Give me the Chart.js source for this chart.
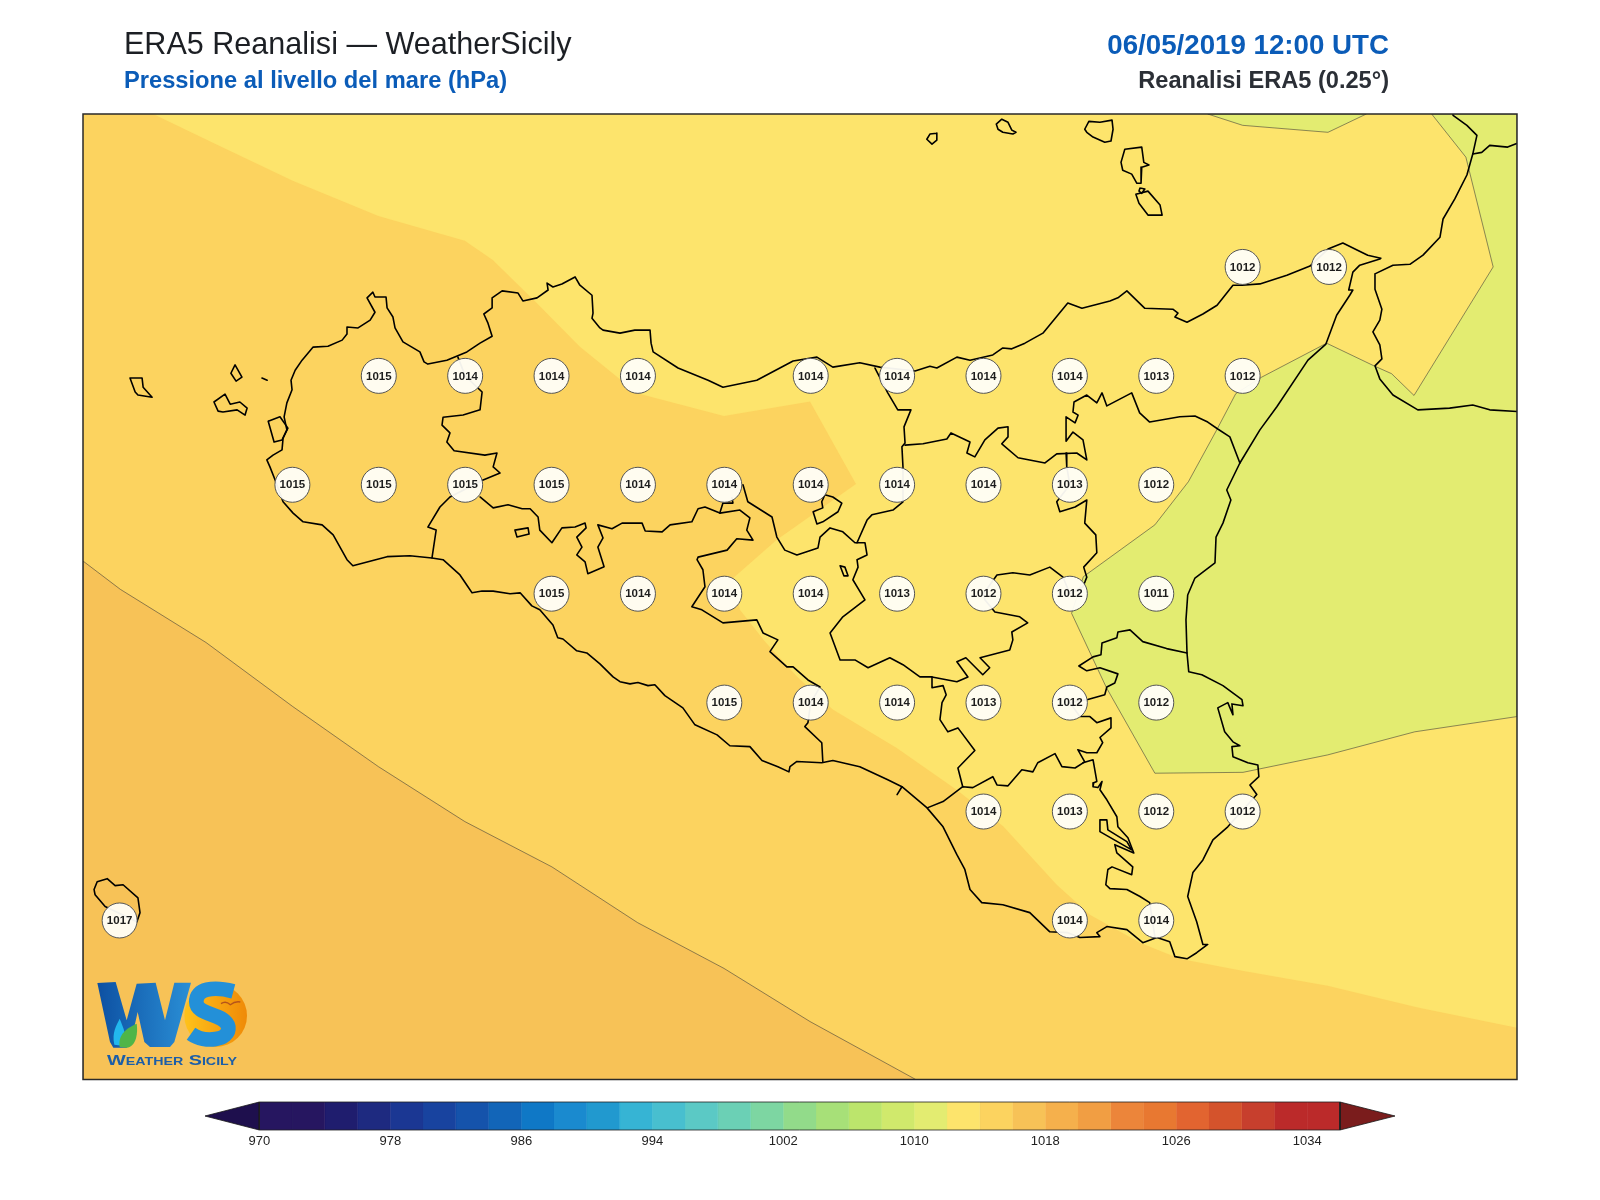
<!DOCTYPE html>
<html lang="it"><head><meta charset="utf-8"><title>ERA5 Reanalisi — WeatherSicily</title>
<script src="https://cdn.jsdelivr.net/npm/chart.js@4"></script>
<style>
html,body{margin:0;padding:0;background:#fff;width:1600px;height:1200px;overflow:hidden;font-family:"Liberation Sans",Arial,sans-serif}
canvas{position:absolute;display:block}
.t{position:absolute;white-space:nowrap}
svg{position:absolute}
</style></head><body>
<canvas id="map" width="1600" height="1098" style="left:0;top:0"></canvas>
<canvas id="bar" width="1190" height="53" style="top:1101px;left:205px"></canvas>
<div class="t" style="left:124px;top:25px;font-size:30.55px;line-height:36px;color:#1c1f24">ERA5 Reanalisi — WeatherSicily</div>
<div class="t" style="left:124px;top:65px;font-size:23.7px;line-height:30px;font-weight:bold;color:#0b5cb8">Pressione al livello del mare (hPa)</div>
<div class="t" style="right:211px;top:28px;font-size:27.7px;line-height:34px;font-weight:bold;color:#0b5cb8">06/05/2019 12:00 UTC</div>
<div class="t" style="right:211px;top:65px;font-size:23.6px;line-height:30px;font-weight:bold;color:#2b2f36">Reanalisi ERA5 (0.25°)</div>
<svg width="170" height="230" viewBox="0 0 510 690" style="left:85px;top:852px">
<defs>
<linearGradient id="wg" x1="0" y1="0" x2="1" y2="0"><stop offset="0" stop-color="#0d50a2"/><stop offset="1" stop-color="#2a8fd6"/></linearGradient>
<linearGradient id="og" x1="0" y1="0" x2="1" y2="0"><stop offset="0" stop-color="#ffc21a"/><stop offset="1" stop-color="#ef8a07"/></linearGradient>
</defs>
<circle cx="392" cy="491" r="94" fill="url(#og)"/>
<path d="M37 393 L92 390 L125 505 L155 395 L212 392 L240 505 L268 392 L318 392 L268 570 L255 585 L195 585 L178 570 L158 480 L138 570 L125 587 L85 587 L75 570Z" fill="url(#wg)"/>
<path d="M88 578 C80 540 95 520 104 500 C116 530 126 548 118 582Z" fill="#22b8ee"/>
<path d="M104 585 C98 548 125 528 155 515 C160 550 150 585 125 587Z" fill="#4fb548"/>
<path d="M445 418 C385 402 332 410 334 450 C334 492 420 482 430 525 C435 565 360 575 318 545" fill="none" stroke="#2390d8" stroke-width="44"/>
<path d="M408 455 Q422 445 436 458 Q450 447 466 450" fill="none" stroke="#b5541a" stroke-width="4"/>
<text x="66" y="638" textLength="390" lengthAdjust="spacingAndGlyphs" font-family="Liberation Sans" font-weight="bold" font-size="46" fill="#1c5ea8" style="font-variant:small-caps">Weather Sicily</text>
</svg>
<script>
// Map extent (degrees)
const lonRange=[11.894,16.044];
const latRange=[36.385,38.601];

// Sea-level pressure grid values
const stationLon=[15.25,15.5,
12.75,13,13.25,13.5,14,14.25,14.5,14.75,15,15.25,
12.5,12.75,13,13.25,13.5,13.75,14,14.25,14.5,14.75,15,
13.25,13.5,13.75,14,14.25,14.5,14.75,15,
13.75,14,14.25,14.5,14.75,15,
14.5,14.75,15,15.25,
12,14.75,15];
const stationLat=[38.25,38.25,
38,38,38,38,38,38,38,38,38,38,
37.75,37.75,37.75,37.75,37.75,37.75,37.75,37.75,37.75,37.75,37.75,
37.5,37.5,37.5,37.5,37.5,37.5,37.5,37.5,
37.25,37.25,37.25,37.25,37.25,37.25,
37,37,37,37,
36.75,36.75,36.75];
const stationP=[1012,1012,
1015,1014,1014,1014,1014,1014,1014,1014,1013,1012,
1015,1015,1015,1015,1014,1014,1014,1014,1014,1013,1012,
1015,1014,1014,1014,1013,1012,1012,1011,
1015,1014,1014,1013,1012,1012,
1014,1013,1012,1012,
1017,1014,1014];

// Filled pressure contours (lon, lat)
const band1014=[[11.894,38.601],[16.044,38.601],[16.044,36.385],[11.894,36.385]];
const band1016=[[11.894,37.575],[12.002,37.510],[12.250,37.388],[12.501,37.241],[12.749,37.103],[12.999,36.977],[13.251,36.873],[13.499,36.745],[13.749,36.640],[13.998,36.518],[14.304,36.385],[11.894,36.385]];
const band1012=[[12.097,38.601],[12.273,38.534],[12.501,38.448],[12.749,38.367],[12.999,38.310],[13.080,38.266],[13.207,38.167],[13.332,38.067],[13.498,37.960],[13.749,37.908],[13.998,37.941],[14.131,37.752],[13.901,37.623],[13.776,37.536],[13.795,37.463],[13.868,37.390],[13.960,37.310],[14.064,37.234],[14.249,37.146],[14.422,37.050],[14.557,36.966],[14.712,36.832],[14.808,36.763],[14.953,36.699],[15.068,36.662],[15.245,36.635],[15.496,36.600],[15.757,36.550],[16.044,36.504],[16.044,38.601]];
const band1010a=[[15.149,38.601],[15.250,38.575],[15.497,38.559],[15.608,38.601]];
const band1010b=[[15.797,38.601],[15.896,38.502],[15.975,38.250],[15.746,37.955],[15.681,38.005],[15.630,38.023],[15.493,38.075],[15.305,37.997],[15.230,37.959],[15.175,37.876],[15.093,37.757],[14.996,37.658],[14.789,37.539],[14.755,37.455],[14.856,37.284],[14.996,37.088],[15.251,37.090],[15.496,37.130],[15.748,37.183],[16.044,37.218],[16.044,38.601]];

// Coastlines
const sicily=[[12.426,37.807],[12.444,37.818],[12.470,37.830],[12.473,37.857],[12.484,37.876],[12.476,37.906],[12.484,37.938],[12.499,37.968],[12.496,37.990],[12.508,38.013],[12.528,38.036],[12.560,38.066],[12.603,38.068],[12.644,38.082],[12.658,38.096],[12.658,38.112],[12.690,38.110],[12.725,38.128],[12.739,38.146],[12.716,38.179],[12.733,38.192],[12.739,38.181],[12.771,38.181],[12.774,38.156],[12.791,38.135],[12.797,38.110],[12.820,38.078],[12.869,38.055],[12.881,38.032],[12.892,38.027],[12.947,38.036],[13.005,38.055],[13.043,38.075],[13.078,38.091],[13.066,38.121],[13.054,38.142],[13.078,38.156],[13.078,38.179],[13.107,38.195],[13.153,38.190],[13.167,38.172],[13.208,38.179],[13.240,38.197],[13.237,38.213],[13.254,38.204],[13.280,38.211],[13.318,38.227],[13.332,38.208],[13.367,38.185],[13.370,38.144],[13.367,38.132],[13.390,38.110],[13.399,38.105],[13.448,38.098],[13.491,38.105],[13.535,38.105],[13.538,38.075],[13.544,38.055],[13.616,38.018],[13.703,37.990],[13.746,37.974],[13.844,37.990],[13.949,38.034],[14.018,38.043],[14.064,38.020],[14.142,38.030],[14.200,38.020],[14.302,38.011],[14.345,38.022],[14.365,38.018],[14.423,38.043],[14.461,38.036],[14.527,38.048],[14.556,38.064],[14.582,38.062],[14.620,38.075],[14.672,38.098],[14.744,38.167],[14.785,38.155],[14.866,38.172],[14.889,38.179],[14.915,38.195],[14.967,38.155],[15.048,38.153],[15.063,38.144],[15.054,38.135],[15.089,38.123],[15.135,38.142],[15.176,38.162],[15.222,38.208],[15.248,38.208],[15.300,38.211],[15.378,38.231],[15.445,38.252],[15.497,38.291],[15.540,38.305],[15.581,38.289],[15.612,38.277],[15.650,38.270],[15.647,38.268],[15.589,38.254],[15.569,38.238],[15.557,38.197],[15.569,38.197],[15.560,38.185],[15.522,38.139],[15.491,38.073],[15.439,38.036],[15.349,37.929],[15.300,37.876],[15.242,37.800],[15.204,37.738],[15.216,37.715],[15.193,37.662],[15.173,37.630],[15.170,37.571],[15.112,37.536],[15.091,37.497],[15.086,37.440],[15.089,37.364],[15.094,37.321],[15.132,37.314],[15.193,37.289],[15.248,37.257],[15.251,37.243],[15.219,37.247],[15.222,37.222],[15.207,37.250],[15.178,37.238],[15.198,37.183],[15.222,37.160],[15.242,37.151],[15.219,37.149],[15.222,37.126],[15.265,37.112],[15.294,37.107],[15.297,37.080],[15.271,37.061],[15.291,37.039],[15.207,36.965],[15.164,36.935],[15.135,36.889],[15.106,36.860],[15.091,36.805],[15.117,36.747],[15.135,36.695],[15.149,36.695],[15.117,36.676],[15.089,36.662],[15.054,36.667],[15.039,36.701],[15.002,36.711],[14.961,36.699],[14.915,36.729],[14.857,36.736],[14.828,36.722],[14.837,36.713],[14.779,36.711],[14.744,36.722],[14.692,36.724],[14.634,36.768],[14.556,36.786],[14.495,36.791],[14.461,36.821],[14.446,36.867],[14.423,36.901],[14.383,36.965],[14.336,37.009],[14.264,37.057],[14.223,37.073],[14.142,37.103],[14.064,37.117],[14.032,37.112],[13.960,37.115],[13.940,37.103],[13.937,37.091],[13.905,37.103],[13.859,37.117],[13.824,37.149],[13.766,37.151],[13.729,37.176],[13.665,37.199],[13.630,37.238],[13.578,37.266],[13.549,37.291],[13.529,37.289],[13.500,37.296],[13.477,37.293],[13.448,37.298],[13.428,37.309],[13.390,37.339],[13.352,37.364],[13.323,37.369],[13.283,37.396],[13.268,37.399],[13.254,37.428],[13.216,37.463],[13.193,37.472],[13.159,37.502],[13.130,37.500],[13.081,37.506],[13.049,37.506],[13.020,37.502],[13.008,37.516],[12.985,37.543],[12.936,37.578],[12.904,37.582],[12.840,37.587],[12.774,37.585],[12.675,37.564],[12.658,37.578],[12.618,37.635],[12.586,37.658],[12.531,37.665],[12.502,37.685],[12.473,37.711],[12.450,37.761],[12.435,37.791],[12.426,37.807]];
const calabria=[[15.855,38.61],[15.859,38.598],[15.899,38.575],[15.928,38.552],[15.916,38.509],[15.899,38.461],[15.864,38.406],[15.830,38.360],[15.821,38.318],[15.772,38.277],[15.734,38.256],[15.685,38.254],[15.633,38.234],[15.633,38.199],[15.653,38.153],[15.647,38.128],[15.627,38.101],[15.647,38.071],[15.653,38.039],[15.633,38.023],[15.647,37.993],[15.685,37.956],[15.757,37.922],[15.849,37.926],[15.916,37.933],[15.965,37.922],[16.067,37.917]];
const calabriaBorder=[[15.916,38.509],[15.942,38.513],[15.965,38.529],[16.017,38.525],[16.067,38.541]];
const alicudi=[[14.336,38.543],[14.345,38.555],[14.365,38.557],[14.365,38.541],[14.351,38.532],[14.336,38.543]];
const filicudi=[[14.537,38.578],[14.553,38.589],[14.571,38.582],[14.582,38.564],[14.594,38.559],[14.585,38.555],[14.556,38.559],[14.542,38.566],[14.537,38.578]];
const salina=[[14.793,38.566],[14.805,38.584],[14.837,38.582],[14.872,38.587],[14.875,38.566],[14.869,38.539],[14.851,38.536],[14.817,38.548],[14.799,38.559],[14.793,38.566]];
const lipari=[[14.898,38.490],[14.909,38.520],[14.958,38.525],[14.964,38.490],[14.979,38.484],[14.958,38.479],[14.956,38.442],[14.944,38.442],[14.929,38.463],[14.903,38.472],[14.898,38.490]];
const vulcanello=[[14.953,38.431],[14.967,38.429],[14.958,38.419],[14.950,38.424],[14.953,38.431]];
const vulcano=[[14.941,38.417],[14.976,38.424],[15.011,38.392],[15.017,38.369],[14.976,38.369],[14.950,38.396],[14.941,38.417]];
const marettimo=[[12.030,37.995],[12.065,37.995],[12.068,37.974],[12.094,37.951],[12.053,37.956],[12.045,37.963],[12.030,37.995]];
const levanzo=[[12.334,38.025],[12.354,37.997],[12.337,37.988],[12.322,38.006],[12.334,38.025]];
const favignana=[[12.273,37.940],[12.305,37.958],[12.320,37.935],[12.348,37.940],[12.369,37.926],[12.363,37.910],[12.340,37.922],[12.299,37.917],[12.285,37.919],[12.273,37.940]];
const formica=[[12.412,37.995],[12.427,37.990]];
const stagnone=[[12.430,37.896],[12.464,37.906],[12.487,37.880],[12.470,37.853],[12.447,37.848],[12.430,37.896]];
const pantelleria=[[11.926,36.821],[11.935,36.839],[11.964,36.846],[11.987,36.830],[12.010,36.832],[12.053,36.802],[12.059,36.768],[12.050,36.747],[11.958,36.782],[11.929,36.809],[11.926,36.821]];
const gelaSpur=[[14.264,37.057],[14.250,37.039]];

// Province borders and lakes
const border1=[[12.979,38.043],[13.0,38.0],[13.049,37.963],[13.043,37.922],[12.994,37.910],[12.936,37.905],[12.933,37.887],[12.956,37.869],[12.947,37.848],[12.968,37.828],[13.057,37.818],[13.092,37.823],[13.081,37.791],[13.101,37.777],[13.052,37.761],[12.956,37.722],[12.927,37.699],[12.892,37.653],[12.916,37.646],[12.904,37.582]];
const border2=[[13.043,37.722],[13.081,37.697],[13.124,37.704],[13.165,37.695],[13.188,37.695],[13.211,37.676],[13.216,37.646],[13.251,37.617],[13.280,37.651],[13.318,37.653],[13.347,37.662],[13.350,37.651],[13.323,37.630],[13.338,37.607],[13.323,37.589],[13.347,37.573],[13.355,37.546],[13.402,37.562],[13.384,37.607],[13.399,37.628],[13.384,37.658],[13.425,37.649],[13.454,37.662],[13.512,37.662],[13.521,37.644],[13.570,37.642],[13.593,37.658],[13.656,37.665],[13.674,37.695],[13.694,37.699],[13.737,37.685],[13.795,37.692],[13.824,37.674],[13.815,37.646],[13.833,37.623],[13.786,37.626],[13.758,37.600],[13.674,37.584],[13.671,37.578],[13.688,37.555],[13.694,37.516],[13.656,37.470],[13.685,37.463],[13.746,37.433],[13.844,37.440],[13.862,37.410],[13.905,37.394],[13.882,37.367],[13.931,37.332],[13.949,37.332],[13.992,37.302],[14.027,37.286],[14.0,37.25],[13.992,37.204],[13.983,37.195],[14.032,37.158],[14.035,37.115]];
const border2b=[[13.737,37.685],[13.746,37.708],[13.775,37.708],[13.772,37.720]];
const border3=[[13.804,37.750],[13.818,37.711],[13.888,37.676],[13.902,37.630],[13.925,37.600],[13.960,37.589],[14.021,37.605],[14.027,37.630],[14.056,37.651],[14.093,37.642],[14.128,37.617],[14.157,37.617],[14.163,37.589],[14.134,37.578],[14.137,37.561],[14.122,37.532],[14.157,37.486],[14.093,37.447],[14.056,37.410],[14.085,37.348],[14.128,37.348],[14.166,37.330],[14.229,37.353],[14.267,37.337],[14.316,37.309],[14.351,37.309],[14.423,37.298],[14.455,37.309],[14.423,37.344],[14.449,37.353],[14.498,37.314],[14.518,37.330],[14.490,37.353],[14.576,37.371],[14.585,37.394],[14.582,37.412],[14.628,37.433],[14.605,37.447],[14.533,37.458],[14.504,37.486],[14.5,37.5],[14.539,37.543],[14.585,37.548],[14.634,37.543],[14.692,37.561],[14.730,37.538],[14.75,37.5]];
const border4=[[14.186,38.018],[14.223,37.961],[14.252,37.922],[14.290,37.922],[14.270,37.883],[14.273,37.846],[14.264,37.837],[14.267,37.791],[14.267,37.711],[14.238,37.692],[14.177,37.681],[14.163,37.669],[14.134,37.617]];
const border5=[[14.273,37.841],[14.325,37.844],[14.394,37.855],[14.406,37.869],[14.461,37.848],[14.452,37.823],[14.475,37.814],[14.504,37.853],[14.542,37.880],[14.571,37.883],[14.571,37.860],[14.553,37.844],[14.600,37.812],[14.678,37.800],[14.712,37.821],[14.770,37.823],[14.799,37.807],[14.788,37.853],[14.759,37.871],[14.739,37.850],[14.739,37.906],[14.765,37.892],[14.774,37.910],[14.759,37.917],[14.762,37.940],[14.799,37.956],[14.828,37.938],[14.843,37.961],[14.857,37.931],[14.929,37.961],[14.952,37.915],[14.981,37.894],[15.068,37.906],[15.112,37.908],[15.149,37.894],[15.178,37.878],[15.213,37.860],[15.242,37.800]];
const border6=[[14.739,37.823],[14.741,37.791],[14.75,37.75],[14.712,37.711],[14.721,37.688],[14.765,37.699],[14.799,37.715],[14.793,37.662],[14.825,37.635],[14.828,37.594],[14.790,37.561],[14.799,37.538],[14.788,37.516],[14.75,37.5]];
const border8=[[14.351,37.309],[14.351,37.284],[14.383,37.289],[14.392,37.268],[14.380,37.250],[14.374,37.211],[14.397,37.183],[14.426,37.192],[14.475,37.140],[14.426,37.100],[14.440,37.057]];
const border9=[[14.339,37.009],[14.383,37.023],[14.440,37.057],[14.469,37.055],[14.527,37.080],[14.539,37.061],[14.571,37.059],[14.611,37.096],[14.643,37.091],[14.657,37.112],[14.707,37.133],[14.727,37.103],[14.765,37.100],[14.793,37.114],[14.773,37.142],[14.799,37.135],[14.828,37.135],[14.845,37.158],[14.837,37.170],[14.869,37.192],[14.869,37.215],[14.828,37.204],[14.808,37.218],[14.779,37.218],[14.75,37.25]];
const border10=[[14.75,37.25],[14.802,37.257],[14.851,37.268],[14.857,37.286],[14.880,37.295],[14.889,37.316],[14.837,37.330],[14.799,37.323],[14.776,37.334],[14.817,37.355],[14.840,37.360],[14.843,37.387],[14.886,37.399],[14.889,37.412],[14.924,37.417],[14.961,37.390],[15.030,37.374],[15.089,37.364]];
const border11=[[14.788,37.112],[14.817,37.119],[14.828,37.069],[14.819,37.066],[14.817,37.057],[14.831,37.055],[14.843,37.069],[14.837,37.050],[14.857,37.027],[14.886,36.988],[14.889,36.965],[14.918,36.940],[14.935,36.905],[14.880,36.924],[14.886,36.905],[14.932,36.873],[14.929,36.855],[14.872,36.873],[14.860,36.867],[14.854,36.832],[14.866,36.823],[14.915,36.821],[14.953,36.805],[14.981,36.791],[14.996,36.713]];
const lakeOgliastro=[[14.837,36.981],[14.857,36.981],[14.860,36.958],[14.915,36.931],[14.929,36.912],[14.837,36.954],[14.837,36.981]];
const lakePozzillo=[[14.085,37.564],[14.099,37.561],[14.108,37.541],[14.096,37.541],[14.085,37.564]];
const lakeArancio=[[13.144,37.646],[13.182,37.651],[13.185,37.637],[13.150,37.630],[13.144,37.646]];
const lakeEnclave=[[14.041,37.727],[14.064,37.722],[14.090,37.708],[14.079,37.688],[14.035,37.665],[14.018,37.660],[14.007,37.688],[14.035,37.697],[14.032,37.711],[14.041,37.727]];

// Colour bar
const cbLevels=[970,972,974,976,978,980,982,984,986,988,990,992,994,996,998,1000,1002,1004,1006,1008,1010,1012,1014,1016,1018,1020,1022,1024,1026,1028,1030,1032,1034];
const cbColors=['#261660','#261660','#1f1d6e','#1e2a80','#1b3793','#18439f','#1553ab','#1265b8','#0f78c6','#1a8acf','#2199cf','#36b4d4','#48bfcf','#5bc9c5','#6bd0b5','#7dd6a2','#92db8a','#a7e078','#bce56c','#d0e96c','#e3ec71','#fde46c','#fcd35f','#f7c257','#f5b04c','#f19e43','#ec853a','#e87831','#e26430','#d4532c','#c73f2d','#bb2a2a','#bb2a2a'];
const cbTicks=[970,978,986,994,1002,1010,1018,1026,1034];
const cbLow=966.684, cbHigh=1039.36, cbEnd=1036;

const toPts=a=>a.map(([x,y])=>({x,y}));
const band=(a,c,line,o)=>({type:'scatter',data:toPts(a.concat([a[0]])),showLine:true,tension:0,fill:'shape',backgroundColor:c,borderColor:line?'rgba(55,55,55,.8)':c,borderWidth:line?0.7:0.1,pointRadius:0,order:o});
const stroke=(a,w)=>({type:'scatter',data:toPts(a),showLine:true,tension:0,fill:false,borderColor:'#000',borderWidth:w||1.6,pointRadius:0,order:5,borderJoinStyle:'round',borderCapStyle:'round'});

const stationLabels={id:'stationLabels',
  afterDatasetsDraw(c){
    const g=c.ctx,a=c.chartArea;
    g.save();
    g.strokeStyle='#2a2a2a';g.lineWidth=1.5;g.strokeRect(a.left,a.top,a.right-a.left,a.bottom-a.top);
    g.font='bold 11.5px "Liberation Sans"';g.fillStyle='#1d1d1d';g.textAlign='center';g.textBaseline='middle';
    stationP.forEach((p,i)=>g.fillText(String(p),c.scales.x.getPixelForValue(stationLon[i]),c.scales.y.getPixelForValue(stationLat[i])+0.5));
    g.restore();
  }};

new Chart(document.getElementById('map'),{
  type:'scatter',
  data:{datasets:[
    {data:stationLon.map((x,i)=>({x,y:stationLat[i]})),pointRadius:17.5,pointBackgroundColor:'rgba(255,254,248,.95)',pointBorderColor:'#555',pointBorderWidth:1,showLine:false,order:1,clip:false},
    ...[calabria,calabriaBorder,alicudi,filicudi,salina,lipari,vulcanello,vulcano,marettimo,levanzo,favignana,formica,stagnone,pantelleria,gelaSpur,sicily,
        border1,border2,border2b,border3,border4,border5,border6,border8,border9,border10,border11,lakeOgliastro,lakePozzillo,lakeArancio,lakeEnclave].map(a=>stroke(a)),
    band(band1010a,'#e3ec71',true,10),
    band(band1010b,'#e3ec71',true,10),
    band(band1012,'#fde46c',false,11),
    band(band1016,'#f7c257',true,12),
    band(band1014,'#fcd35f',false,13)
  ]},
  options:{responsive:false,animation:false,events:[],
    layout:{padding:{left:83,top:114,right:83,bottom:10}},
    plugins:{legend:{display:false},tooltip:{enabled:false},title:{display:false}},
    scales:{x:{type:'linear',display:false,min:lonRange[0],max:lonRange[1]},
            y:{type:'linear',display:false,min:latRange[0],max:latRange[1]}}},
  plugins:[stationLabels]
});

const rect=(lo,hi,c)=>({data:[{x:lo,y:0},{x:hi,y:0},{x:hi,y:1},{x:lo,y:1},{x:lo,y:0}],showLine:true,tension:0,fill:'shape',backgroundColor:c,borderColor:c,borderWidth:0.3,pointRadius:0,order:2});
new Chart(document.getElementById('bar'),{
  type:'scatter',
  data:{datasets:[
    {data:[{x:cbLevels[0],y:0},{x:cbLevels[0],y:1},{x:cbEnd,y:1},{x:cbEnd,y:0},{x:cbLevels[0],y:0}],showLine:true,fill:false,borderColor:'#222',borderWidth:0.8,pointRadius:0,order:0,clip:false},
    ...cbLevels.map((l,i)=>rect(l,l+2,cbColors[i])),
    {data:[{x:cbLevels[0],y:0},{x:cbLow,y:0.5},{x:cbLevels[0],y:1},{x:cbLevels[0],y:0}],showLine:true,fill:'shape',backgroundColor:'#1e0f4d',borderColor:'#1a1a1a',borderWidth:0.8,pointRadius:0,order:1,clip:false},
    {data:[{x:cbEnd,y:0},{x:cbHigh,y:0.5},{x:cbEnd,y:1},{x:cbEnd,y:0}],showLine:true,fill:'shape',backgroundColor:'#7a1c1c',borderColor:'#1a1a1a',borderWidth:0.8,pointRadius:0,order:1,clip:false}
  ]},
  options:{responsive:false,animation:false,events:[],
    layout:{padding:{top:1,left:0,right:0,bottom:0}},
    plugins:{legend:{display:false},tooltip:{enabled:false}},
    scales:{
      x:{type:'linear',min:cbLow,max:cbHigh,grid:{display:false,drawTicks:false},border:{display:false},
         afterBuildTicks(s){s.ticks=cbTicks.map(v=>({value:v}));},
         afterFit(s){s.height=24;},
         ticks:{autoSkip:false,maxRotation:0,padding:4,color:'#222',font:{family:'Liberation Sans',size:13},callback:v=>String(v)}},
      y:{type:'linear',display:false,min:0,max:1}}}
});
</script>
</body></html>
